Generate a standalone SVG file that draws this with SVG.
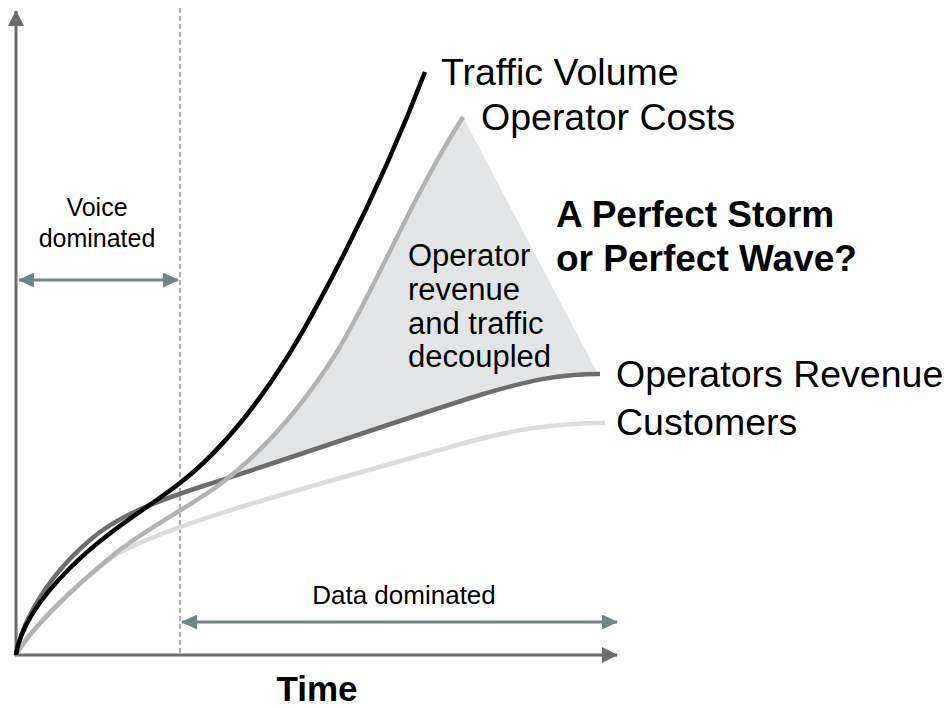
<svg xmlns="http://www.w3.org/2000/svg" width="944" height="708" viewBox="0 0 944 708">
  <style>
    text { font-family: "Liberation Sans", Arial, sans-serif; fill: #000; }
    .lbl { font-size: 37.5px; }
    .note { font-size: 31px; }
    .span { font-size: 25px; text-anchor: middle; }
    .bold { font-weight: bold; }
    .axis { stroke: #6d6d6d; stroke-width: 3; fill: none; }
    .range { stroke: #6f8686; stroke-width: 3; fill: none; }
    .curve { fill: none; stroke-width: 4.5; stroke-linecap: butt; }
  </style>
  <defs>
    <marker id="axisHead" markerUnits="userSpaceOnUse" markerWidth="16" markerHeight="16" refX="15" refY="8" orient="auto">
      <path d="M0,0 L16,8 L0,16 Z" fill="#6d6d6d"/>
    </marker>
    <marker id="rangeEnd" markerUnits="userSpaceOnUse" markerWidth="16" markerHeight="15" refX="15" refY="7.5" orient="auto">
      <path d="M0,0 L16,7.5 L0,15 Z" fill="#6f8686"/>
    </marker>
    <marker id="rangeStart" markerUnits="userSpaceOnUse" markerWidth="16" markerHeight="15" refX="1" refY="7.5" orient="auto">
      <path d="M16,0 L0,7.5 L16,15 Z" fill="#6f8686"/>
    </marker>
  </defs>

  <!-- shaded gap between operator costs and revenue -->
  <g id="gap-area">
    <path d="M228,478 C 265,450 302,406 335,355 C 370,300 410,200 463,117 L 598,374 C 560,374 530,380 480,395 C 400,420 300,452 228,478 Z" fill="#e2e4e5"/>
  </g>

  <!-- axes and era divider -->
  <g id="axes">
    <line x1="180" y1="8" x2="180" y2="655" stroke="#999" stroke-width="1.6" stroke-dasharray="5,3"/>
    <line class="axis" x1="16" y1="656" x2="16" y2="11" marker-end="url(#axisHead)"/>
    <line class="axis" x1="15" y1="655" x2="617" y2="655" marker-end="url(#axisHead)"/>
  </g>

  <!-- growth curves -->
  <g id="connectors">
    <path id="customers" class="curve" stroke="#dcdcdc" d="M16,655 C 30,630 70,588 117,554 C 180,520 300,490 450,447 C 510,430 550,423 605,423"/>
    <path id="revenue" class="curve" stroke="#6d6d6d" d="M16,655 C 22,622 48,572 100,532 C 128,512 158,501 200,487 C 300,455 400,420 480,395 C 530,380 560,374 600,374"/>
    <path id="costs" class="curve" stroke="#b3b3b3" d="M16,655 C 30,630 70,590 117,552 C 150,527 180,512 215,488 C 260,455 300,410 335,355 C 370,300 410,200 463,117"/>
    <path id="traffic" class="curve" stroke="#000" d="M16,655 C 20,628 40,598 70,568 C 108,530 148,508 180,483 C 220,452 270,395 320,300 C 355,235 395,150 425,72"/>
  </g>

  <!-- era ranges -->
  <g id="voice-era">
    <line class="range" x1="19" y1="280" x2="178" y2="280" marker-start="url(#rangeStart)" marker-end="url(#rangeEnd)"/>
    <text class="span" x="97" y="216">Voice</text>
    <text class="span" x="97" y="247">dominated</text>
  </g>
  <g id="data-era">
    <line class="range" x1="182" y1="622" x2="617" y2="622" marker-start="url(#rangeStart)" marker-end="url(#rangeEnd)"/>
    <text class="span" x="404" y="604" style="font-size:26px">Data dominated</text>
  </g>

  <!-- series labels -->
  <g id="label-traffic"><text class="lbl" x="441" y="85">Traffic Volume</text></g>
  <g id="label-costs"><text class="lbl" x="481" y="130">Operator Costs</text></g>
  <g id="label-revenue"><text class="lbl" x="616" y="387">Operators Revenue</text></g>
  <g id="label-customers"><text class="lbl" x="616" y="435">Customers</text></g>

  <g id="label-gap">
    <text class="note" x="408" y="266">Operator</text>
    <text class="note" x="408" y="300">revenue</text>
    <text class="note" x="408" y="334">and traffic</text>
    <text class="note" x="408" y="367">decoupled</text>
  </g>

  <g id="headline">
    <text class="bold" x="556" y="227" style="font-size:37px">A Perfect Storm</text>
    <text class="bold" x="556" y="271" style="font-size:37px">or Perfect Wave?</text>
  </g>

  <g id="label-time">
    <text class="bold" x="317" y="701" text-anchor="middle" style="font-size:35px">Time</text>
  </g>
</svg>
